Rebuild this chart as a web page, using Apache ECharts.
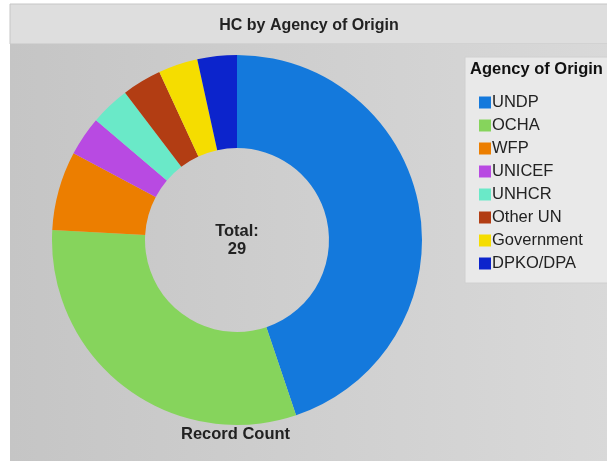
<!DOCTYPE html>
<html>
<head>
<meta charset="utf-8">
<script src="https://cdn.jsdelivr.net/npm/echarts@6/dist/echarts.min.js"></script>
<style>
  html, body { margin: 0; padding: 0; background: #fff; }
  #chart { width: 607px; height: 461px; }
</style>
</head>
<body>
<div id="chart"></div>
<script>
// data
var agencies = ['UNDP', 'OCHA', 'WFP', 'UNICEF', 'UNHCR', 'Other UN', 'Government', 'DPKO/DPA'];
var counts = [13, 9, 2, 1, 1, 1, 1, 1];
var colors = ['#1479dc', '#86d45c', '#ec7e00', '#b84ae2', '#6ae9c8', '#b23d13', '#f5dd00', '#0c24cc'];

var total = counts.reduce(function (a, b) { return a + b; }, 0);

var chart = echarts.init(document.getElementById('chart'));

var pieData = agencies.map(function (name, i) {
  var d = { name: name, value: counts[i], itemStyle: { color: colors[i] } };
  if (i > 0) d.label = { show: false }; // only one slice carries the centre label
  return d;
});

var option = {
  animation: false,
  backgroundColor: '#ffffff',
  title: {
    text: 'HC by Agency of Origin',
    left: 304, top: 13, textAlign: 'center',
    textStyle: { fontFamily: 'Liberation Sans', fontSize: 16, fontWeight: 'bold', color: '#222' }
  },
  graphic: [
    // title band
    { type: 'rect', z: -10, shape: { x: 10, y: 4, width: 600, height: 40 },
      style: { fill: '#dedede', stroke: '#c6c6c6', lineWidth: 1 } },
    // plot area
    { type: 'rect', z: -10, shape: { x: 10, y: 44, width: 600, height: 420 },
      style: { fill: new echarts.graphic.LinearGradient(0, 0, 1, 0, [
        { offset: 0, color: '#c5c5c5' }, { offset: 1, color: '#d9d9d9' }]) } },
    // legend box
    { type: 'rect', z: -5, shape: { x: 465, y: 57, width: 150, height: 226 },
      style: { fill: '#e9e9e9', stroke: '#d0d0d0', lineWidth: 1 } },
    { type: 'text', left: 470, top: 61,
      style: { text: 'Agency of Origin', font: 'bold 16.5px "Liberation Sans"', fill: '#111' } },
    { type: 'text', left: 181, top: 426,
      style: { text: 'Record Count', font: 'bold 16.5px "Liberation Sans"', fill: '#222' } }
  ],
  legend: {
    orient: 'vertical',
    left: 474, top: 89,
    itemWidth: 12, itemHeight: 12, itemGap: 6,
    icon: 'rect',
    selectedMode: false,
    data: agencies,
    textStyle: { fontFamily: 'Liberation Sans', fontSize: 16.5, color: '#222', padding: [0, 0, 0, -4] }
  },
  series: [{
    type: 'pie',
    center: [237, 240],
    radius: [92, 185],
    startAngle: 90,
    clockwise: true,
    label: {
      show: true, position: 'center',
      formatter: function () { return 'Total:\n' + total; },
      fontFamily: 'Liberation Sans', fontSize: 16.5, fontWeight: 'bold', color: '#222', lineHeight: 18
    },
    labelLine: { show: false },
    emphasis: { disabled: true },
    data: pieData
  }]
};

chart.setOption(option);
</script>
</body>
</html>
